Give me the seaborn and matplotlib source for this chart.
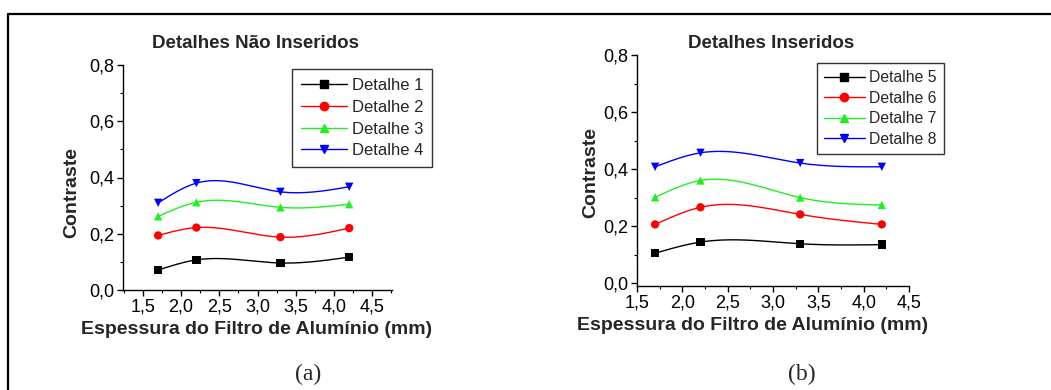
import numpy as np
import pandas as pd
import matplotlib
matplotlib.use("Agg")
import matplotlib.pyplot as plt
import seaborn as sns
from matplotlib.lines import Line2D
from matplotlib.ticker import FuncFormatter, MultipleLocator

sns.set_theme(style="white")
plt.rcParams['font.family'] = ['Liberation Sans', 'DejaVu Sans']

# ---- data ----
thickness = [1.7, 2.2, 3.3, 4.2]
left_names = ["Detalhe 1", "Detalhe 2", "Detalhe 3", "Detalhe 4"]
d1 = [0.071, 0.107, 0.096, 0.117]
d2 = [0.194, 0.222, 0.188, 0.220]
d3 = [0.262, 0.312, 0.294, 0.305]
d4 = [0.310, 0.380, 0.349, 0.367]
right_names = ["Detalhe 5", "Detalhe 6", "Detalhe 7", "Detalhe 8"]
d5 = [0.105, 0.144, 0.138, 0.135]
d6 = [0.206, 0.266, 0.241, 0.206]
d7 = [0.301, 0.360, 0.300, 0.274]
d8 = [0.408, 0.457, 0.421, 0.408]
colors = ["#000000", "#FF0000", "#22EE22", "#0000FF"]
markers = ["s", "o", "^", "v"]


def natural_spline(x, y, n=200):
    x = np.asarray(x, float); y = np.asarray(y, float)
    k = len(x); h = np.diff(x)
    A = np.zeros((k, k)); b = np.zeros(k)
    A[0, 0] = A[-1, -1] = 1
    for i in range(1, k - 1):
        A[i, i - 1] = h[i - 1]; A[i, i] = 2 * (h[i - 1] + h[i]); A[i, i + 1] = h[i]
        b[i] = 3 * ((y[i + 1] - y[i]) / h[i] - (y[i] - y[i - 1]) / h[i - 1])
    c = np.linalg.solve(A, b)
    xs = np.linspace(x[0], x[-1], n)
    idx = np.clip(np.searchsorted(x, xs) - 1, 0, k - 2)
    bb = (y[1:] - y[:-1]) / h - h * (2 * c[:-1] + c[1:]) / 3
    d = (c[1:] - c[:-1]) / (3 * h)
    t = xs - x[idx]
    ys = y[idx] + bb[idx] * t + c[idx] * t ** 2 + d[idx] * t ** 3
    return xs, ys


W, H = 1051, 390
fig = plt.figure(figsize=(W / 100, H / 100), dpi=100)


def fx(px):
    return px / W


def fy(py):
    return 1 - py / H


comma = FuncFormatter(lambda v, p: f"{v:.1f}".replace(".", ","))


def make_panel(rect, names, series, xlim, ylim, title, title_xy, xlab_xy, ylab_xy,
               leg_xy, legfs, hlen, lspace, bpad):
    ax = fig.add_axes(rect)
    rows = []
    for name, vals in zip(names, series):
        for xv, yv in zip(thickness, vals):
            rows.append({"x": xv, "y": yv, "Detalhe": name})
    df = pd.DataFrame(rows)
    for name, vals, col in zip(names, series, colors):
        xs, ys = natural_spline(thickness, vals)
        ax.plot(xs, ys, color=col, lw=1.0, zorder=2)
    sns.scatterplot(data=df, x="x", y="y", hue="Detalhe", style="Detalhe",
                    palette=dict(zip(names, colors)), markers=dict(zip(names, markers)),
                    s=36, edgecolor="none", legend=False, ax=ax, zorder=3)
    ax.set_xlim(*xlim); ax.set_ylim(*ylim)
    ax.set_xticks([1.5, 2.0, 2.5, 3.0, 3.5, 4.0, 4.5])
    ax.set_yticks([0.0, 0.2, 0.4, 0.6, 0.8])
    ax.xaxis.set_minor_locator(MultipleLocator(0.25))
    ax.yaxis.set_minor_locator(MultipleLocator(0.1))
    ax.xaxis.set_major_formatter(comma); ax.yaxis.set_major_formatter(comma)
    ax.set_xlabel(""); ax.set_ylabel("")
    for s in ["top", "right"]:
        ax.spines[s].set_visible(False)
    for s in ["left", "bottom"]:
        ax.spines[s].set_color("black"); ax.spines[s].set_linewidth(1.0)
    ax.tick_params(which="major", direction="out", length=4, width=1, colors="black",
                   labelsize=13, pad=2, bottom=True, left=True)
    ax.tick_params(which="minor", direction="out", length=2, width=0.8, colors="black",
                   bottom=True, left=True)
    ax.patch.set_alpha(0)
    fig.text(fx(title_xy[0]), fy(title_xy[1]), title, ha="center", va="center",
             fontsize=13.5, fontweight="bold")
    fig.text(fx(xlab_xy[0]), fy(xlab_xy[1]), "Espessura do Filtro de Alumínio (mm)",
             ha="center", va="center", fontsize=14, fontweight="bold")
    fig.text(fx(ylab_xy[0]), fy(ylab_xy[1]), "Contraste", ha="center", va="center",
             fontsize=14, fontweight="bold", rotation=90)
    handles = [Line2D([0], [0], color=c, marker=m, markersize=6, lw=1.0,
                      markeredgecolor=c) for c, m in zip(colors, markers)]
    leg = fig.legend(handles, names, loc="upper left",
                     bbox_to_anchor=(fx(leg_xy[0]), fy(leg_xy[1])),
                     frameon=True, fancybox=False, fontsize=legfs,
                     handlelength=hlen, handletextpad=0.28, labelspacing=lspace,
                     borderpad=bpad, borderaxespad=0)
    leg.get_frame().set_edgecolor("black"); leg.get_frame().set_linewidth(1.0)
    return ax


make_panel([fx(123), fy(290), fx(392) - fx(123), fy(65) - fy(290)],
           left_names, [d1, d2, d3, d4], (1.24, 4.76), (0.0, 0.8),
           "Detalhes Não Inseridos", (256, 43), (257, 329), (72, 193),
           (292, 69), 12.0, 2.75, 0.4, 0.55)
make_panel([fx(637), fy(286), fx(909) - fx(637), fy(55) - fy(286)],
           right_names, [d5, d6, d7, d8], (1.5, 4.5), (-0.01, 0.8),
           "Detalhes Inseridos", (771, 43), (753, 325), (591, 172),
           (817, 63), 11.3, 2.6, 0.35, 0.45)

fig.text(fx(308), fy(374), "(a)", ha="center", va="center", fontsize=17,
         family="Liberation Serif")
fig.text(fx(802), fy(374), "(b)", ha="center", va="center", fontsize=17,
         family="Liberation Serif")

fig.add_artist(Line2D([fx(8), fx(8)], [0, fy(14)], color="black", lw=1.6,
                      transform=fig.transFigure))
fig.add_artist(Line2D([fx(8), 1.0], [fy(14), fy(14)], color="black", lw=1.6,
                      transform=fig.transFigure))

fig.savefig("out.png", dpi=100)
